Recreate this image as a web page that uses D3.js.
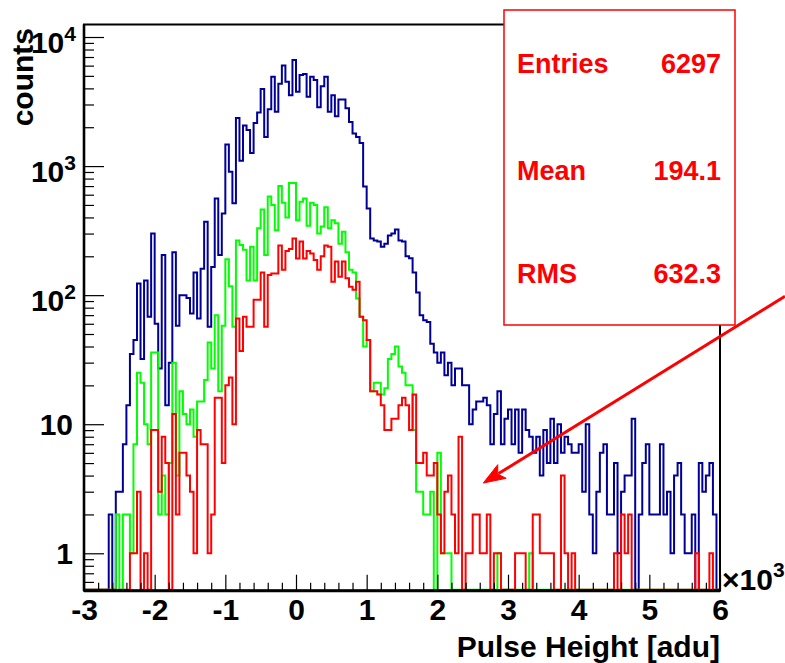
<!DOCTYPE html>
<html><head><meta charset="utf-8">
<script src="https://cdn.jsdelivr.net/npm/d3@7"></script>
<style>
body{margin:0;background:#fff}
text{font-family:"Liberation Sans",Arial,Helvetica,sans-serif;font-weight:bold}
</style>
</head><body>
<svg id="c" width="785" height="663"></svg>
<script>
// ---- data ----
const xMin = -3000, xMax = 6000, binWidth = 50;
const yMin = 0.513, yMax = 12500;

const blue = [
0,0,0,0,0,0,0,2,0,3,
3,7,14,35,45,123,32,130,68,300,
60,27,205,14,30,215,58,100,100,95,
72,150,66,160,370,57,165,560,205,430,
1470,905,515,2360,1100,2060,1900,1260,2160,2600,
3950,1680,2750,4920,2640,4350,6020,4510,3540,6630,
3760,5070,5170,3440,4920,4640,2860,4150,4920,2640,
3540,2430,3280,3280,2800,2200,1790,1680,1510,695,
470,275,265,260,237,250,290,300,323,265,
260,200,193,150,105,70,64,62,42,36,
30,36,24,30,20,27,27,20,20,10,
13,15,15,16,14,7,12,18,7,11,
13,7,13,6,13,9,8,6,8,4,
9,5,11,5,10,6,8,7,6,6,
7,3,10,2,1,3,6,7,2,2,
5,1,3,4,4,11,0,2,5,7,
2,2,2,7,2,3,1,4,5,2,
1,1,2,0,5,3,4,5,2,0
];

const green = [
0,0,0,0,0,0,0,0,0,2,
0,2,2,1,7,25,21,10,7,36,
36,2,4,2,5,30,4,18,12,10,
13,8,15,15,22,43,27,70,18,58,
190,117,57,265,245,225,130,237,130,330,
460,205,580,500,318,700,520,400,740,740,
380,530,560,345,520,500,300,340,480,330,
380,360,250,310,215,157,150,94,68,40,
45,18,21,21,17,19,32,35,40,28,
25,20,20,9,3,3,2,2,3,0,
6,1,1,1,0,0,0,0,0,0,
0,0,0,0,0,0,0,1,0,0,
0,0,0,0,0,0,1,0,0,0,
0,0,0,0,0,0,0,0,0,0,
0,0,0,0,0,0,0,0,0,0,
0,0,0,0,0,0,0,0,0,0,
0,0,0,0,0,0,0,0,0,0,
0,0,0,0,0,0,0,0,0,0
];

const red = [
0,0,0,0,0,0,0,0,0,0,
0,0,0,1,1,3,0,1,0,9,
9,3,8,5,0,12,2,6,6,4,
3,1,9,7,7,1,2,16,16,5,
20,23,10,66,37,68,57,57,92,92,
150,57,143,147,147,243,157,220,228,275,
192,260,192,220,210,187,157,200,243,237,
127,182,139,182,135,116,110,127,68,64,
45,18,18,17,14,9,9,11,11,14,
16,14,9,17,5,5,6,4,4,5,
2,1,3,4,2,1,8,0,1,1,
2,2,1,1,2,0,1,1,0,0,
0,0,1,1,1,0,0,2,2,1,
1,1,1,0,0,4,1,0,1,0,
0,0,0,0,0,0,0,0,0,0,
1,0,2,1,2,0,0,0,0,0,
0,0,0,0,0,0,0,0,0,0,
0,0,0,1,0,0,0,1,0,0
];

const xMajorTicks = [-3000,-2000,-1000,0,1000,2000,3000,4000,5000,6000];
const xTickLabels = ["-3","-2","-1","0","1","2","3","4","5","6"];
const yMajorTicks = [1,10,100,1000,10000];
const yTickLabels = [["1",""],["10",""],["10","2"],["10","3"],["10","4"]];
const statNames = ["Entries","Mean","RMS"];
const statValues = ["6297","194.1","632.3"];
const arrowFrom = [6920, 98];
const arrowTo = [2650, 3.5];

// ---- layout ----
const F = {left:84, right:720, top:24.5, bottom:590.7};
const svg = d3.select("#c");
const x = d3.scaleLinear().domain([xMin, xMax]).range([F.left, F.right]);
const y = d3.scaleLog().domain([yMin, yMax]).range([F.bottom, F.top]);

svg.append("rect").attr("width",785).attr("height",663).attr("fill","#fff");

svg.append("clipPath").attr("id","fr").append("rect")
  .attr("x",F.left).attr("y",F.top).attr("width",F.right-F.left).attr("height",F.bottom-F.top+1);

function pts(vals){
  const p = vals.map((v,i)=>[xMin+i*binWidth, v]);
  p.push([xMin+vals.length*binWidth, vals[vals.length-1]]);
  return p;
}
const line = d3.line()
  .x(d=>x(d[0]))
  .y(d=>d[1]>0 ? y(d[1]) : F.bottom-1)
  .curve(d3.curveStepAfter);

const hg = svg.append("g").attr("clip-path","url(#fr)");
[[blue,"#000099"],[green,"#00ff00"],[red,"#ff0000"]].forEach(([vals,col])=>{
  hg.append("path").attr("d",line(pts(vals))).attr("fill","none")
    .attr("stroke",col).attr("stroke-width",2).attr("stroke-linejoin","miter");
});

// ---- axes ----
const xMinor = d3.range(xMin, xMax+1, 200).filter(v=>v%1000!==0);
const gxm = svg.append("g").attr("transform",`translate(0,${F.bottom})`)
  .call(d3.axisBottom(x).tickValues(xMinor).tickSize(-8).tickFormat(""));
const gx = svg.append("g").attr("transform",`translate(0,${F.bottom})`)
  .call(d3.axisBottom(x).tickValues(xMajorTicks).tickSize(-16).tickPadding(8)
        .tickFormat((d,i)=>xTickLabels[i]));
[gxm,gx].forEach(g=>{g.select(".domain").remove();
  g.selectAll("line").attr("stroke","#000").attr("stroke-width",1.2);});
gx.selectAll("text").attr("font-size",30).attr("fill","#000")
  .attr("font-family","Liberation Sans, Arial, sans-serif").attr("font-weight","bold");

const yMinor = [];
[0.1,1,10,100,1000].forEach(dec=>{for(let k=2;k<=9;k++){const v=dec*k; if(v>=yMin && v<=yMax) yMinor.push(v);}});
const gym = svg.append("g").attr("transform",`translate(${F.left},0)`)
  .call(d3.axisLeft(y).tickValues(yMinor).tickSize(-10).tickFormat(""));
const gy = svg.append("g").attr("transform",`translate(${F.left},0)`)
  .call(d3.axisLeft(y).tickValues(yMajorTicks).tickSize(-20).tickFormat(""));
[gym,gy].forEach(g=>{g.select(".domain").remove();
  g.selectAll("line").attr("stroke","#000").attr("stroke-width",1.2);});

yMajorTicks.forEach((v,i)=>{
  const [b,sup] = yTickLabels[i];
  const t = svg.append("text").attr("x",F.left-(sup?8:11)).attr("y",y(v)+(sup?15.5:11))
    .attr("text-anchor","end").attr("font-size",30).attr("fill","#000");
  t.append("tspan").text(b);
  if(sup) t.append("tspan").attr("font-size",21).attr("dy",-12).text(sup);
});

// frame
svg.append("rect").attr("x",F.left).attr("y",F.top).attr("width",F.right-F.left)
  .attr("height",F.bottom-F.top).attr("fill","none").attr("stroke","#000").attr("stroke-width",2);
svg.append("line").attr("x1",F.left).attr("x2",F.right).attr("y1",F.bottom).attr("y2",F.bottom)
  .attr("stroke","#000").attr("stroke-width",3);
svg.append("line").attr("x1",F.left).attr("x2",F.left).attr("y1",F.top).attr("y2",F.bottom)
  .attr("stroke","#000").attr("stroke-width",2.6);

// axis titles
svg.append("text").attr("transform",`translate(33,28) rotate(-90)`).attr("text-anchor","end")
  .attr("font-size",30).attr("fill","#000").text("counts");
svg.append("text").attr("x",F.right).attr("y",657).attr("text-anchor","end")
  .attr("font-size",30).attr("fill","#000").text("Pulse Height [adu]");
const mul = svg.append("text").attr("x",722).attr("y",590).attr("font-size",30).attr("fill","#000");
mul.append("tspan").text("\u00d710");
mul.append("tspan").attr("font-size",21).attr("dy",-13).text("3");

// stats box
svg.append("rect").attr("x",504).attr("y",10).attr("width",231).attr("height",315)
  .attr("fill","#fff").attr("stroke","#ff0000").attr("stroke-width",1.5);
const statY = [73,180,283];
statNames.forEach((n,i)=>{
  svg.append("text").attr("x",517).attr("y",statY[i]).attr("font-size",27).attr("fill","#ff0000").text(n);
  svg.append("text").attr("x",721).attr("y",statY[i]).attr("text-anchor","end")
    .attr("font-size",27).attr("fill","#ff0000").text(statValues[i]);
});

// arrow
const ax0 = x(arrowFrom[0]), ay0 = y(arrowFrom[1]);
const ax1 = x(arrowTo[0]), ay1 = y(arrowTo[1]);
const ang = Math.atan2(ay1-ay0, ax1-ax0);
const hl = 22, hw = 8;
const bx = ax1 - hl*Math.cos(ang), by = ay1 - hl*Math.sin(ang);
svg.append("line").attr("x1",ax0).attr("y1",ay0).attr("x2",bx+4*Math.cos(ang)).attr("y2",by+4*Math.sin(ang))
  .attr("stroke","#ff0000").attr("stroke-width",3);
svg.append("path").attr("d",
  `M${ax1},${ay1}L${bx - hw*Math.sin(ang)},${by + hw*Math.cos(ang)}L${bx + 5*Math.cos(ang)},${by + 5*Math.sin(ang)}L${bx + hw*Math.sin(ang)},${by - hw*Math.cos(ang)}Z`)
  .attr("fill","#ff0000").attr("stroke","#ff0000").attr("stroke-width",1);
</script>
</body></html>
